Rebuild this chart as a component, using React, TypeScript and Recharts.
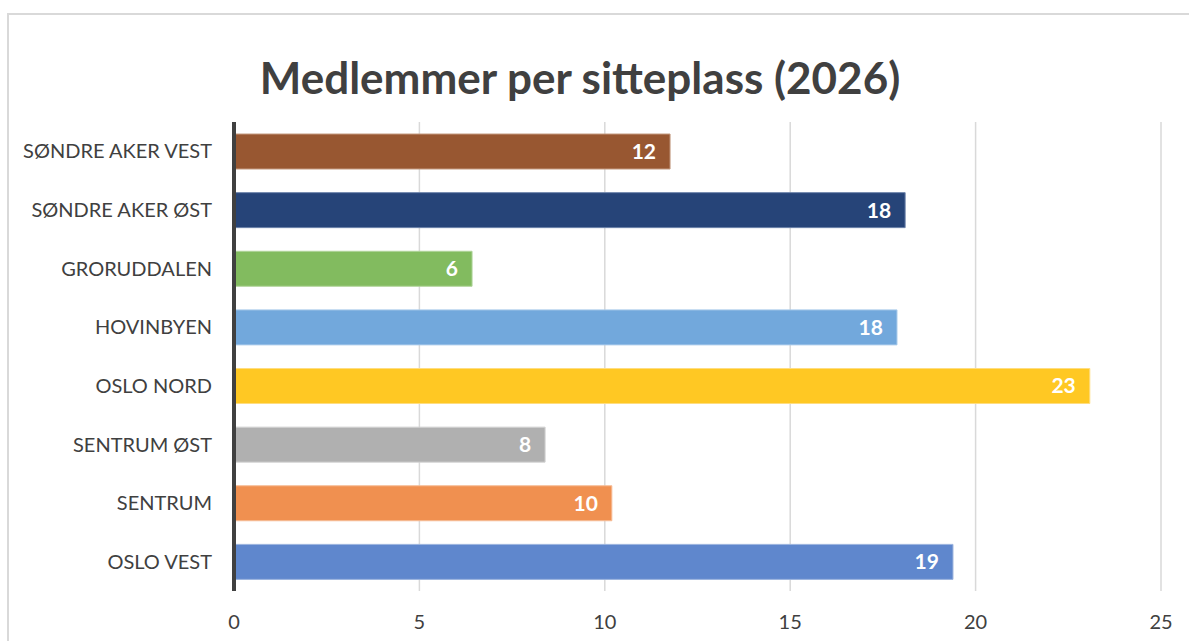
import React from 'react';
import { BarChart, Bar, XAxis, YAxis, CartesianGrid, Cell, LabelList } from 'recharts';

const categories = ['SØNDRE AKER VEST', 'SØNDRE AKER ØST', 'GRORUDDALEN', 'HOVINBYEN', 'OSLO NORD', 'SENTRUM ØST', 'SENTRUM', 'OSLO VEST'];
const values = [11.76, 18.1, 6.42, 17.88, 23.08, 8.39, 10.19, 19.39];
const colors = ['#985731', '#264478', '#82bb5f', '#72a8dc', '#ffc823', '#b0b0b0', '#f09050', '#5f87cd'];
const strokes = ['#c49a80', '#6d84ab', '#b0d49b', '#a9cbea', '#ffdd80', '#d2d2d2', '#f6bc96', '#9bb3de'];
const xTicks = [0, 5, 10, 15, 20, 25];
const title = 'Medlemmer per sitteplass (2026)';

const data = categories.map((name, i) => ({ name, value: values[i] }));

const FONT = 'Lato, "Open Sans", sans-serif';

export default function App() {
  return (
    <div style={{ position: 'absolute', left: 0, top: 0, width: 1189, height: 641, overflow: 'hidden', background: '#fff', fontFamily: FONT }}>
      <div style={{ position: 'absolute', left: 7, top: 13, width: 1250, height: 700, border: '2px solid #d9d9d9', boxSizing: 'border-box' }} />
      <div style={{ position: 'absolute', left: 0, width: 1160, top: 50, textAlign: 'center', fontSize: 44, fontWeight: 700, color: '#404040', lineHeight: '54px' }}>{title}</div>
      <div style={{ position: 'absolute', left: 0, top: 0 }}>
        <BarChart width={1189} height={641} data={data} layout="vertical" margin={{ top: 122, right: 28, bottom: 0, left: 0 }}>
          <CartesianGrid horizontal={false} stroke="#d9d9d9" strokeWidth={1.5} />
          <XAxis type="number" domain={[0, 25]} ticks={xTicks} axisLine={false} tickLine={false} height={50} tick={{ fill: '#404040', fontSize: 20, fontFamily: FONT }} tickMargin={18} />
          <YAxis type="category" dataKey="name" width={234} axisLine={{ stroke: '#404040', strokeWidth: 4 }} tickLine={false} tick={{ fill: '#404040', fontSize: 20, fontFamily: FONT }} tickMargin={16} />
          <Bar dataKey="value" barSize={35} isAnimationActive={false}>
            {data.map((d, i) => (
              <Cell key={d.name} fill={colors[i]} stroke={strokes[i]} strokeWidth={1} />
            ))}
            <LabelList dataKey="value" position="insideRight" offset={14} formatter={(v: any) => Math.round(Number(v))} style={{ fill: '#ffffff', fontSize: 21, fontWeight: 700, fontFamily: FONT }} />
          </Bar>
        </BarChart>
      </div>
    </div>
  );
}
